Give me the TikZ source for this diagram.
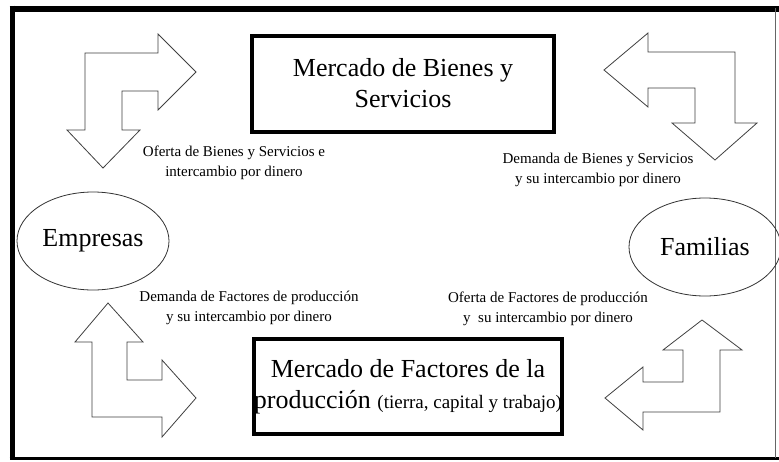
\documentclass[tikz,border=0pt]{standalone}
\usepackage{fontspec}
\setmainfont{Liberation Serif}
\usetikzlibrary{shapes.geometric,positioning}
\tikzstyle{market}=[rectangle,draw=black,line width=4pt,align=center,inner sep=0pt,
font=\fontsize{26}{31}\selectfont]
\tikzstyle{agent}=[ellipse,draw=black!80,line width=0.8pt,inner sep=0pt,
minimum width=152pt,minimum height=98pt,font=\fontsize{26}{31}\selectfont]
\tikzstyle{flowlabel}=[align=center,inner sep=0pt,font=\fontsize{15}{20}\selectfont]
\tikzstyle{bentarrow}=[draw=black!75,line width=0.8pt,line join=miter,fill=white]
\tikzstyle{frame}=[line width=5pt]

\begin{document}
\begin{tikzpicture}[x=1pt,y=-1pt]
        \useasboundingbox (0,0) rectangle (779,461);
        \fill [white] (0,0) rectangle (779,461);

        \draw [frame] (12,5.5) -- (12,460);
        \draw [frame,line width=6pt] (9.5,8.5) -- (779,8.5);
        \draw [frame,line width=3pt] (9.5,458.5) -- (779,458.5);
        \draw [black!60,line width=0.8pt] (775,8) -- (775,458);

        \node (bienes) [market,minimum width=302pt,minimum height=96pt] at (403,83.5) {Mercado de Bienes y\\Servicios};
        \node (factores) [market,minimum width=308pt,minimum height=95pt] at (408,386.5)
            {Mercado de Factores de la\\producción {\fontsize{19}{22}\selectfont(tierra, capital y trabajo)}};
        \node (empresas) [agent] at (93,241) {Empresas};
        \node (familias) [agent] at (705,247) {Familias};

        \node (ofertab) [flowlabel] at (234,163) {Oferta de Bienes y Servicios e\\intercambio por dinero};
        \node (demandab) [flowlabel] at (598,170) {Demanda de Bienes y Servicios\\y su intercambio por dinero};
        \node (demandaf) [flowlabel] at (249,308) {Demanda de Factores de producción\\y su intercambio por dinero};
        \node (ofertaf) [flowlabel] at (548,309) {Oferta de Factores de producción\\y\ \ su intercambio por dinero};

        \draw [bentarrow] (85,53) -- (158,53) -- (158,34) -- (196,72) -- (158,110) -- (158,91) -- (122,91)
            -- (122,130) -- (140,130) -- (103,168) -- (67,130) -- (85,130) -- cycle;
        \draw [bentarrow] (735,52) -- (648,52) -- (648,33) -- (604,70) -- (648,107) -- (648,88) -- (695,88)
            -- (695,123) -- (672,123) -- (715,160) -- (757,123) -- (735,123) -- cycle;
        \draw [bentarrow] (92,417) -- (92,342) -- (75,342) -- (108,303) -- (143,342) -- (127,342) -- (127,380)
            -- (162,380) -- (162,360) -- (196,398) -- (162,437) -- (162,417) -- cycle;
        \draw [bentarrow] (720,412) -- (720,350) -- (742,350) -- (702,320) -- (663,350) -- (683,350) -- (683,382)
            -- (643,382) -- (643,367) -- (605,398) -- (643,430) -- (643,412) -- cycle;

    \end{tikzpicture}
\end{document}
